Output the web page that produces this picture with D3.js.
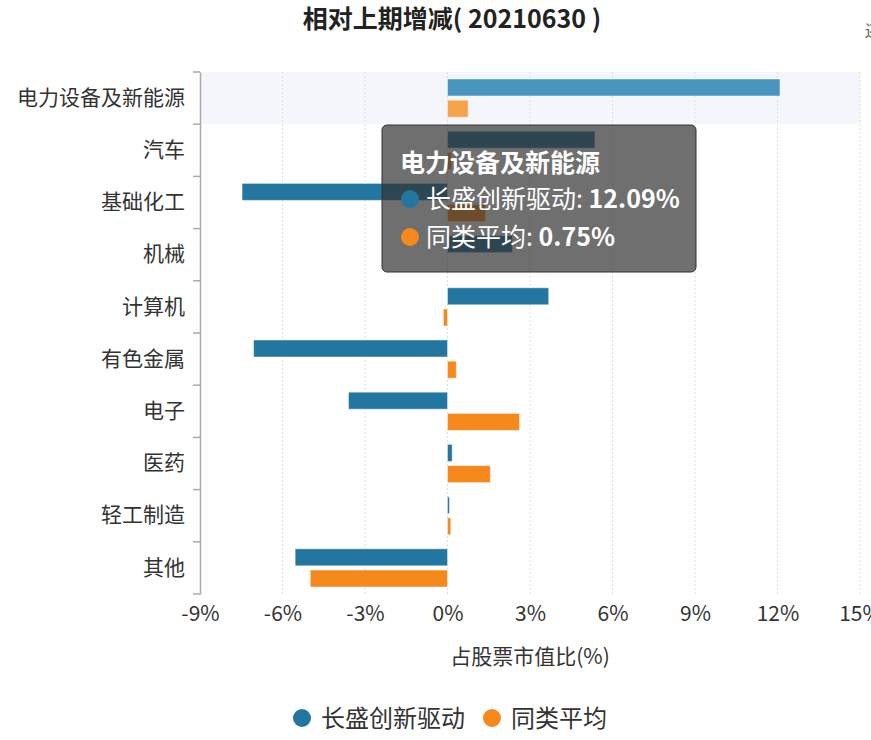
<!DOCTYPE html>
<html>
<head>
<meta charset="utf-8">
<script src="https://cdn.jsdelivr.net/npm/d3@7"></script>
<style>
  body { margin: 0; background: #fff; }
  svg { font-family: "Noto Sans CJK SC", "Noto Sans", sans-serif; }
</style>
</head>
<body>
<div id="chart"></div>
<script>
'use strict';

// 行业 / 基金 vs 同类平均 (占股票市值比 相对上期增减, %)
const categories = ['电力设备及新能源', '汽车', '基础化工', '机械', '计算机', '有色金属', '电子', '医药', '轻工制造', '其他'];
const fundValues = [12.09, 5.36, -7.47, 2.36, 3.68, -7.05, -3.6, 0.17, 0.07, -5.54];
const peerValues = [0.75, 0.15, 1.38, 0, -0.15, 0.32, 2.62, 1.56, 0.12, -4.99];
const seriesNames = ['长盛创新驱动', '同类平均'];
const xTicks = [-9, -6, -3, 0, 3, 6, 9, 12, 15];

const width = 871, height = 740;
const colors = ['#22769f', '#f5891c'];
const hiColors = ['#4895c0', '#f6a248'];
const hoverIndex = 0;

const svg = d3.select('#chart')
  .append('svg')
  .attr('width', width)
  .attr('height', height);

const x = d3.scaleLinear().domain([-9, 15]).range([200, 860]);
const y = d3.scaleBand().domain(categories).range([72, 594]);
const ySeries = d3.scaleBand().domain([0, 1]).range([0, y.bandwidth()])
  .paddingInner(0.2).paddingOuter(0.33);

// title
svg.append('text')
  .attr('x', 452).attr('y', 28)
  .attr('text-anchor', 'middle')
  .attr('font-size', 25).attr('font-weight', 'bold')
  .attr('fill', '#222')
  .text('相对上期增减( 20210630 )');

// cut-off toolbox glyph on the right edge
svg.append('text')
  .attr('x', 865).attr('y', 37)
  .attr('font-size', 16).attr('fill', '#666')
  .text('还');

// hover shadow
svg.append('rect')
  .attr('x', x(-9)).attr('y', y(categories[hoverIndex]))
  .attr('width', x(15) - x(-9)).attr('height', y.bandwidth())
  .attr('fill', '#f4f6fb');

// grid
svg.append('g')
  .selectAll('line')
  .data(xTicks.slice(1))
  .enter()
  .append('line')
  .attr('x1', d => x(d)).attr('x2', d => x(d))
  .attr('y1', 72).attr('y2', 594)
  .attr('stroke', '#d6deec')
  .attr('stroke-dasharray', '2,2');

// bars
const rows = svg.selectAll('.row')
  .data(categories)
  .enter()
  .append('g')
  .attr('class', 'row')
  .attr('transform', d => `translate(0,${y(d)})`);

[fundValues, peerValues].forEach((vals, s) => {
  rows.append('rect')
    .attr('x', (d, i) => x(Math.min(0, vals[i])))
    .attr('y', ySeries(s))
    .attr('width', (d, i) => Math.abs(x(vals[i]) - x(0)))
    .attr('height', ySeries.bandwidth())
    .attr('fill', (d, i) => i === hoverIndex ? hiColors[s] : colors[s])
    .attr('stroke', 'rgba(255,255,255,0.45)')
    .attr('stroke-width', (d, i) => vals[i] === 0 ? 0 : 1);
});

// y axis
const yAxis = svg.append('g')
  .attr('transform', `translate(${x(-9)},0)`)
  .call(d3.axisLeft(y).tickSize(0).tickPadding(15));
yAxis.select('.domain').attr('stroke', '#aaa').attr('stroke-width', 1.5);
yAxis.selectAll('text').attr('font-size', 21).attr('fill', '#333')
  .attr('font-family', '"Noto Sans CJK SC", sans-serif');
yAxis.selectAll('.bound')
  .data(d3.range(categories.length + 1))
  .enter()
  .append('line')
  .attr('x1', -7).attr('x2', 0)
  .attr('y1', i => 72 + i * y.step()).attr('y2', i => 72 + i * y.step())
  .attr('stroke', '#aaa').attr('stroke-width', 1.5);

// x axis labels
const xAxis = svg.append('g')
  .attr('transform', 'translate(0,594)')
  .call(d3.axisBottom(x).tickValues(xTicks).tickSize(0).tickPadding(12)
    .tickFormat(d => d + '%'));
xAxis.select('.domain').remove();
xAxis.selectAll('text').attr('font-size', 21).attr('fill', '#333')
  .attr('font-family', '"Noto Sans CJK SC", sans-serif');

svg.append('text')
  .attr('x', 530).attr('y', 664)
  .attr('text-anchor', 'middle')
  .attr('font-size', 21).attr('fill', '#333')
  .text('占股票市值比(%)');

// legend
const legendX = [302, 492];
const legend = svg.selectAll('.legend')
  .data(seriesNames)
  .enter()
  .append('g')
  .attr('class', 'legend')
  .attr('transform', (d, i) => `translate(${legendX[i]},718)`);
legend.append('circle').attr('r', 9).attr('fill', (d, i) => colors[i]);
legend.append('text')
  .attr('x', 19).attr('dy', '0.36em')
  .attr('font-size', 24).attr('fill', '#333')
  .text(d => d);

// tooltip
const tip = svg.append('g').attr('transform', 'translate(382,125)');
tip.append('rect')
  .attr('width', 314).attr('height', 147)
  .attr('rx', 5)
  .attr('fill', 'rgba(50,50,50,0.7)')
  .attr('stroke', '#333').attr('stroke-width', 1);
tip.append('text')
  .attr('x', 18).attr('y', 38)
  .attr('dy', '0.36em')
  .attr('font-size', 25).attr('font-weight', 'bold').attr('fill', '#fff')
  .text(categories[hoverIndex]);
const tipVals = [fundValues[hoverIndex], peerValues[hoverIndex]];
seriesNames.forEach((name, s) => {
  const cy = 74 + s * 38;
  tip.append('circle').attr('cx', 28).attr('cy', cy).attr('r', 9).attr('fill', colors[s]);
  const t = tip.append('text')
    .attr('x', 44).attr('y', cy).attr('dy', '0.36em')
    .attr('font-size', 25).attr('fill', '#fff');
  t.append('tspan').text(name + ': ');
  t.append('tspan').attr('font-weight', 'bold').text(tipVals[s].toFixed(2) + '%');
});
</script>
</body>
</html>
